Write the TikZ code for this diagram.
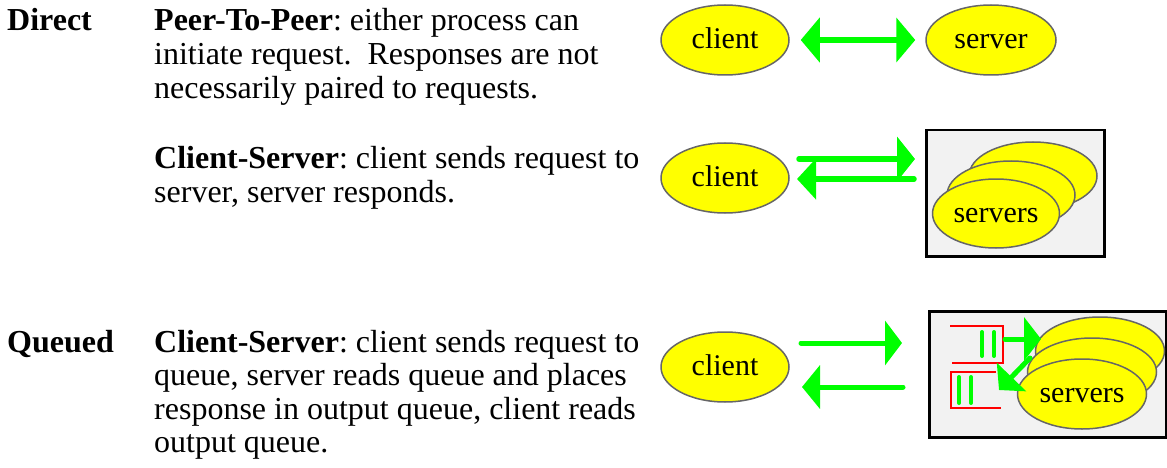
\documentclass[tikz,border=0pt]{standalone}
\usepackage{fontspec}
\setmainfont{Liberation Serif}
\usetikzlibrary{arrows.meta,shapes.geometric}

\definecolor{hostfill}{HTML}{FFFF00}
\definecolor{hostline}{HTML}{666666}
\definecolor{flow}{HTML}{00FF00}
\definecolor{panel}{HTML}{F2F2F2}
\definecolor{queueline}{HTML}{FF0000}

\begin{document}
\frenchspacing
\begin{tikzpicture}[x=1pt,y=-1pt,
  host/.style={ellipse, draw=hostline, line width=1.5pt, fill=hostfill,
    inner sep=0pt, minimum width=128pt, minimum height=70pt,
    text height=17pt, text depth=0pt, font=\fontsize{30}{30}\selectfont},
  panelbox/.style={draw=black, line width=2.5pt, fill=panel, inner sep=0pt,
    anchor=north west},
  body/.style={anchor=base west, inner sep=0pt, font=\fontsize{32}{34}\selectfont},
  flowline/.style={draw=flow, line cap=round},
  queuebox/.style={draw=queueline, line width=2.5pt},
  msg/.style={draw=flow, line width=4pt, line cap=round},
]
\useasboundingbox (0,0) rectangle (1167,468);

% ---------------- left column text ----------------
\node[body] (t-direct) at (7,31)   {\textbf{Direct}};
\node[body] (t-p1) at (154,31)  {\textbf{Peer-To-Peer}: either process can};
\node[body] (t-p2) at (154,65)  {initiate request.~ Responses are not};
\node[body] (t-p3) at (154,99)  {necessarily paired to requests.};
\node[body] (t-c1) at (154,168) {\textbf{Client-Server}: client sends request to};
\node[body] (t-c2) at (154,202) {server, server responds.};
\node[body] (t-queued) at (7,352) {\textbf{Queued}};
\node[body] (t-q1) at (154,352)   {\textbf{Client-Server}: client sends request to};
\node[body] (t-q2) at (154,385.5) {queue, server reads queue and places};
\node[body] (t-q3) at (154,419)   {response in output queue, client reads};
\node[body] (t-q4) at (154,452.5) {output queue.};

% ---------------- peer-to-peer ----------------
\node[host] (c1) at (725,40) {client};
\node[host, minimum width=130pt] (s1) at (991,40) {server};
\draw[flowline, line width=6.5pt,
  {Triangle[length=19pt,width=44pt]}-{Triangle[length=19pt,width=44pt]},
  shorten <=11pt, shorten >=10pt] (c1.east) -- (s1.west);

% ---------------- direct client-server ----------------
\node[host] (c2) at (725,178) {client};
\node[panelbox, minimum width=178pt, minimum height=126pt] (box2) at (925,129) {};
\node[host, minimum height=68pt] (s2a) at (1033,176) {};
\node[host, minimum height=68pt] (s2b) at (1011,195) {};
\node[host, minimum width=127pt, minimum height=69pt] (s2c) at (996,213.5) {servers};
\coordinate (r2a) at (799,159);
\coordinate (r2b) at (915,159);
\coordinate (a2a) at (914,179);
\coordinate (a2b) at (797,179);
\draw[flowline, line width=5.5pt, -{Triangle[length=18pt,width=44pt]}] (r2a) -- (r2b);
\draw[flowline, line width=5.5pt, -{Triangle[length=19pt,width=40pt]}] (a2a) -- (a2b);

% ---------------- queued client-server ----------------
\node[host] (c3) at (725,367) {client};
\node[panelbox, minimum width=237pt, minimum height=126pt] (box3) at (928,310) {};
\node[host, minimum width=129pt, minimum height=68pt] (s3a) at (1100,351) {};
\node[host, minimum width=129pt, minimum height=68pt] (s3b) at (1092,372) {};
\node[host, minimum width=129pt, minimum height=70pt] (s3c) at (1082,394) {servers};
\coordinate (r3a) at (801,343);
\coordinate (r3b) at (902,343);
\coordinate (a3a) at (903,387);
\coordinate (a3b) at (802,387);
\draw[flowline, line width=5pt, -{Triangle[length=17pt,width=44pt]}] (r3a) -- (r3b);
\draw[flowline, line width=5pt, -{Triangle[length=18pt,width=43pt]}] (a3a) -- (a3b);

% request queue and response queue inside the server box
\draw[queuebox] (950,326) -- (1003,326) -- (1003,363) -- (952,363);
\draw[msg] (982,332) -- (982,356);
\draw[msg] (994,332) -- (994,356);
\draw[queuebox] (996,372) -- (951,372) -- (951,408) -- (1001,408);
\draw[msg] (959,377) -- (959,403);
\draw[msg] (971,377) -- (971,403);

% servers take requests from one queue and put responses in the other
\coordinate (qin) at (1005,339);
\coordinate (qin-end) at (1041,339);
\coordinate (qout) at (1030,358);
\coordinate (qout-end) at (999,390);
\draw[flowline, line width=5pt, -{Triangle[length=17pt,width=43pt]}] (qin) -- (qin-end);
\draw[flowline, line width=5pt, -{Triangle[length=18pt,width=40pt]}] (qout) -- (qout-end);
\end{tikzpicture}
\end{document}
